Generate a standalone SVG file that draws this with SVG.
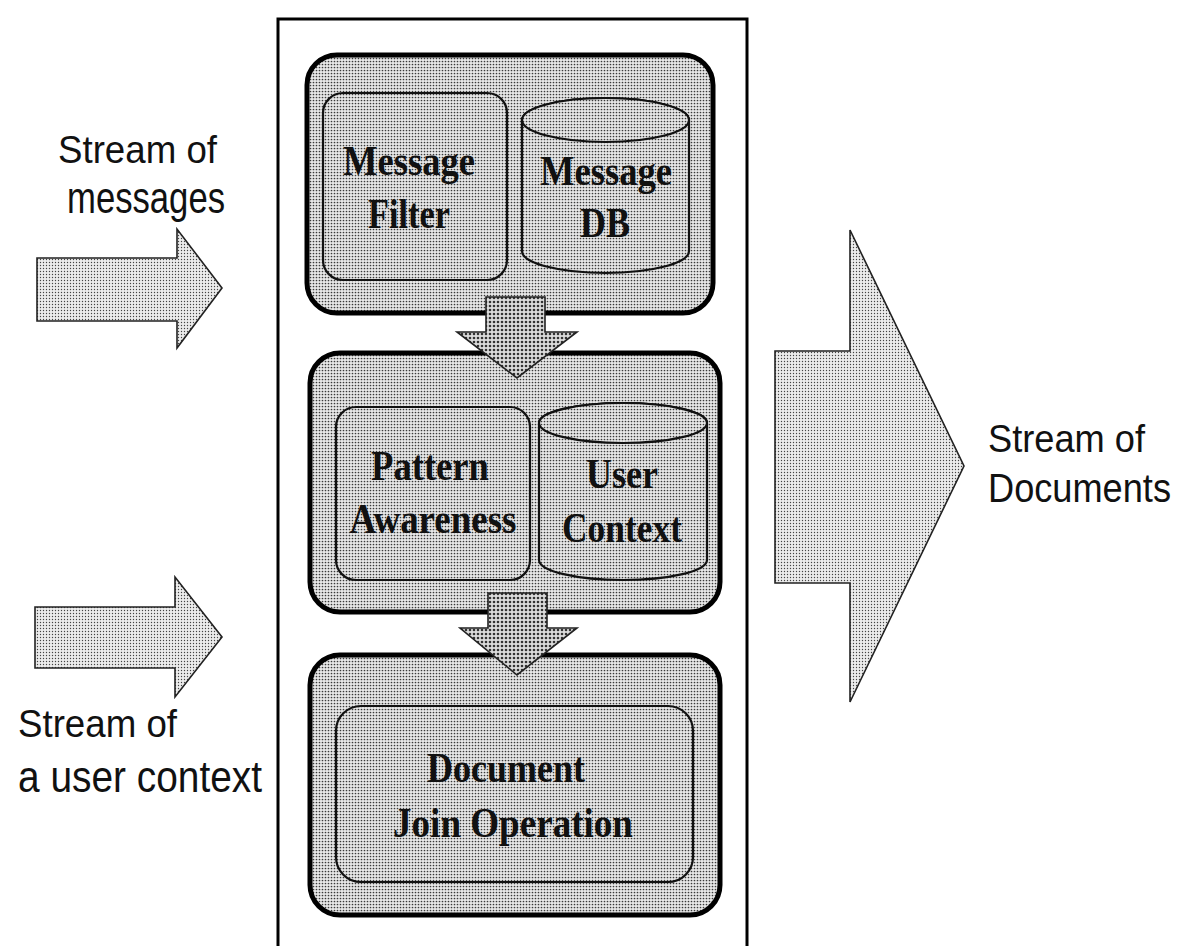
<svg xmlns="http://www.w3.org/2000/svg" width="1202" height="946" viewBox="0 0 1202 946">
<style>
.lbl{font-family:"Liberation Sans",Arial,sans-serif;fill:#111;}
.sb{font-family:"Liberation Serif","Times New Roman",serif;font-weight:bold;fill:#111;text-anchor:middle;}
.blk{fill:url(#dotBlk);stroke:#000;stroke-width:5;}
.inr{fill:url(#dotBlk);stroke:#111;stroke-width:2.2;}
.arL{fill:url(#dotLight);stroke:#222;stroke-width:1.6;}
.arD{fill:url(#dotDark);stroke:#222;stroke-width:1.6;}
</style>
<defs>
<pattern id="dotBlk" width="3" height="3" patternUnits="userSpaceOnUse">
<rect width="3" height="3" fill="#e8e8e8"/><circle cx="1.5" cy="1.5" r="0.85" fill="#3a3a3a"/>
</pattern>
<pattern id="dotLight" width="3" height="3" patternUnits="userSpaceOnUse">
<rect width="3" height="3" fill="#ececec"/><circle cx="1.5" cy="1.5" r="0.7" fill="#444"/>
</pattern>
<pattern id="dotDark" width="4" height="4" patternUnits="userSpaceOnUse">
<rect width="4" height="4" fill="#dcdcdc"/><circle cx="2" cy="2" r="1.3" fill="#333"/>
</pattern>
</defs>
<rect width="1202" height="946" fill="#fff"/>

<g id="container">
<rect x="278" y="19" width="469" height="945" fill="none" stroke="#000" stroke-width="3"/>
</g>

<g id="block-filter">
<rect class="blk" x="307" y="55" width="406" height="258" rx="30"/>
<g id="message-filter">
<rect class="inr" x="323" y="93" width="184" height="187" rx="20"/>
<text class="sb" x="409" y="175" font-size="42" textLength="132" lengthAdjust="spacingAndGlyphs">Message</text>
<text class="sb" x="409" y="228" font-size="42" textLength="82" lengthAdjust="spacingAndGlyphs">Filter</text>
</g>
<g id="message-db">
<path class="inr" d="M522,120 L522,251 A83.5,22 0 0 0 689,251 L689,120 A83.5,22 0 0 0 522,120 Z"/>
<ellipse class="inr" cx="605.5" cy="120" rx="83.5" ry="22"/>
<text class="sb" x="606" y="185" font-size="42" textLength="132" lengthAdjust="spacingAndGlyphs">Message</text>
<text class="sb" x="605" y="237" font-size="42" textLength="50" lengthAdjust="spacingAndGlyphs">DB</text>
</g>
</g>

<g id="block-pattern">
<rect class="blk" x="310" y="353" width="410" height="259" rx="30"/>
<g id="pattern-awareness">
<rect class="inr" x="336" y="407" width="194" height="173" rx="20"/>
<text class="sb" x="430" y="480" font-size="42" textLength="118" lengthAdjust="spacingAndGlyphs">Pattern</text>
<text class="sb" x="433" y="533" font-size="42" textLength="167" lengthAdjust="spacingAndGlyphs">Awareness</text>
</g>
<g id="user-context">
<path class="inr" d="M539,423 L539,560 A84,20 0 0 0 707,560 L707,423 A84,20 0 0 0 539,423 Z"/>
<ellipse class="inr" cx="623" cy="423" rx="84" ry="20"/>
<text class="sb" x="622" y="488" font-size="42" textLength="72" lengthAdjust="spacingAndGlyphs">User</text>
<text class="sb" x="622" y="542" font-size="42" textLength="120" lengthAdjust="spacingAndGlyphs">Context</text>
</g>
</g>

<g id="block-join">
<rect class="blk" x="310" y="655" width="410" height="260" rx="30"/>
<g id="document-join">
<rect class="inr" x="336" y="706" width="357" height="176" rx="25"/>
<text class="sb" x="506" y="782" font-size="42" textLength="158" lengthAdjust="spacingAndGlyphs">Document</text>
<text class="sb" x="513" y="837" font-size="42" textLength="240" lengthAdjust="spacingAndGlyphs">Join Operation</text>
</g>
</g>

<g id="connectors">
<polygon class="arL" points="37,258 177,258 177,229 222,288 177,348 177,321 37,321"/>
<polygon class="arL" points="35,607 175,607 175,577 222,637 175,697 175,668 35,668"/>
<polygon class="arL" points="775,351 850,351 850,230 964,466 850,702 850,583 775,583"/>
<polygon class="arD" points="486,297 545,297 545,332 577,332 517,378 457,332 486,332"/>
<polygon class="arD" points="488,593 547,593 547,628 577,628 517,675 460,628 488,628"/>
</g>

<g id="labels">
<text class="lbl" x="58" y="163" font-size="38" textLength="159" lengthAdjust="spacingAndGlyphs">Stream of</text>
<text class="lbl" x="67" y="213" font-size="44" textLength="158" lengthAdjust="spacingAndGlyphs">messages</text>
<text class="lbl" x="18" y="737" font-size="38" textLength="159" lengthAdjust="spacingAndGlyphs">Stream of</text>
<text class="lbl" x="18" y="792" font-size="44" textLength="244" lengthAdjust="spacingAndGlyphs">a user context</text>
<text class="lbl" x="988" y="452" font-size="38" textLength="157" lengthAdjust="spacingAndGlyphs">Stream of</text>
<text class="lbl" x="988" y="502" font-size="40" textLength="183" lengthAdjust="spacingAndGlyphs">Documents</text>
</g>
</svg>
